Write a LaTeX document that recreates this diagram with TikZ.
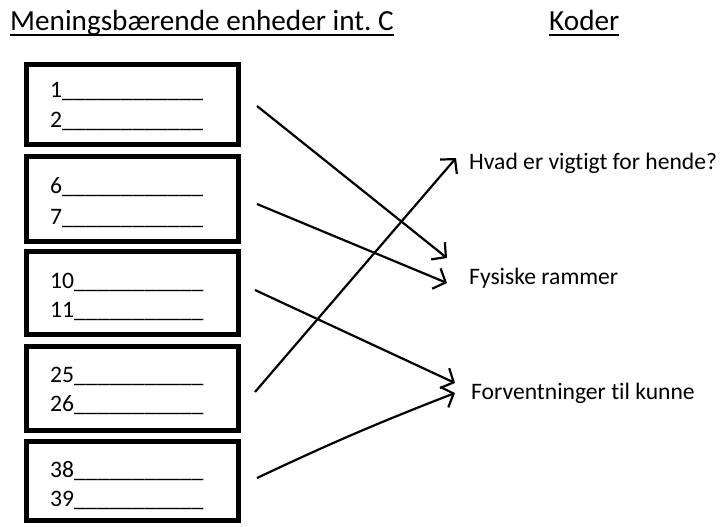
\documentclass[tikz,border=0pt]{standalone}
\usepackage{fontspec}
\setmainfont{Carlito}[Ligatures={NoCommon,NoRare,NoContextual}]
\usetikzlibrary{arrows.meta}
\frenchspacing
\tikzset{
  boxframe/.style={draw=black, line width=5pt, minimum width=212pt, inner sep=0pt},
  numline/.style={anchor=base west, inner sep=0pt, font=\fontsize{23.6}{28}\selectfont},
  codetext/.style={anchor=base west, inner sep=0pt, font=\fontsize{23.6}{28}\selectfont},
  headtext/.style={anchor=base west, inner sep=0pt, font=\fontsize{29.2}{34}\selectfont},
  uline/.style={line width=1.8pt},
  link/.style={line width=2.2pt, -{Straight Barb[length=10pt,width=22pt]}}
}
\begin{document}
\begin{tikzpicture}[x=1pt,y=-1pt]
\useasboundingbox (0,0) rectangle (723,527);
% headings
\node[headtext] (h1) at (10,31) {Meningsbærende enheder int. C};
\node[headtext] (h2) at (549,31) {Koder};
\draw[uline] ([yshift=-4pt]h1.base west) -- ([yshift=-4pt]h1.base east);
\draw[uline] ([yshift=-4pt]h2.base west) -- ([yshift=-4pt]h2.base east);
% boxes
\node[boxframe, minimum height=80pt] (b1) at (132.5,104.5) {};
\node[boxframe, minimum height=85pt] (b2) at (132.5,199) {};
\node[boxframe, minimum height=83pt] (b3) at (132.5,293) {};
\node[boxframe, minimum height=84pt] (b4) at (132.5,388.5) {};
\node[boxframe, minimum height=79pt] (b5) at (132.5,481) {};
% box texts
\node[numline] (n1) at (50,97) {1\_\_\_\_\_\_\_\_\_\_\_\_};
\node[numline] (n2) at (50,127) {2\_\_\_\_\_\_\_\_\_\_\_\_};
\node[numline] (n6) at (50,193) {6\_\_\_\_\_\_\_\_\_\_\_\_};
\node[numline] (n7) at (50,224) {7\_\_\_\_\_\_\_\_\_\_\_\_};
\node[numline] (n10) at (50,288) {10\_\_\_\_\_\_\_\_\_\_\_};
\node[numline] (n11) at (50,317) {11\_\_\_\_\_\_\_\_\_\_\_};
\node[numline] (n25) at (50,382) {25\_\_\_\_\_\_\_\_\_\_\_};
\node[numline] (n26) at (50,411) {26\_\_\_\_\_\_\_\_\_\_\_};
\node[numline] (n38) at (50,477) {38\_\_\_\_\_\_\_\_\_\_\_};
\node[numline] (n39) at (50,506) {39\_\_\_\_\_\_\_\_\_\_\_};
% codes
\node[codetext] (c1) at (469,169) {Hvad er vigtigt for hende?};
\node[codetext] (c2) at (469,284) {Fysiske rammer};
\node[codetext] (c3) at (471,399) {Forventninger til kunne};
% arrow ends
\coordinate (s1) at (257,106);
\coordinate (s2) at (257,204);
\coordinate (s3) at (255,290);
\coordinate (s4) at (255,392);
\coordinate (s5) at (257,478);
\coordinate (t1) at (447,258);
\coordinate (t2) at (447,283);
\coordinate (t3) at (455,383);
\coordinate (t4) at (456,158);
\coordinate (t5) at (455,393);
% arrows
\draw[link] (s1) -- (t1);
\draw[link] (s2) -- (t2);
\draw[link] (s3) -- (t3);
\draw[link] (s4) -- (t4);
\draw[link] (s5) to[bend left=2] (t5);
\end{tikzpicture}
\end{document}
